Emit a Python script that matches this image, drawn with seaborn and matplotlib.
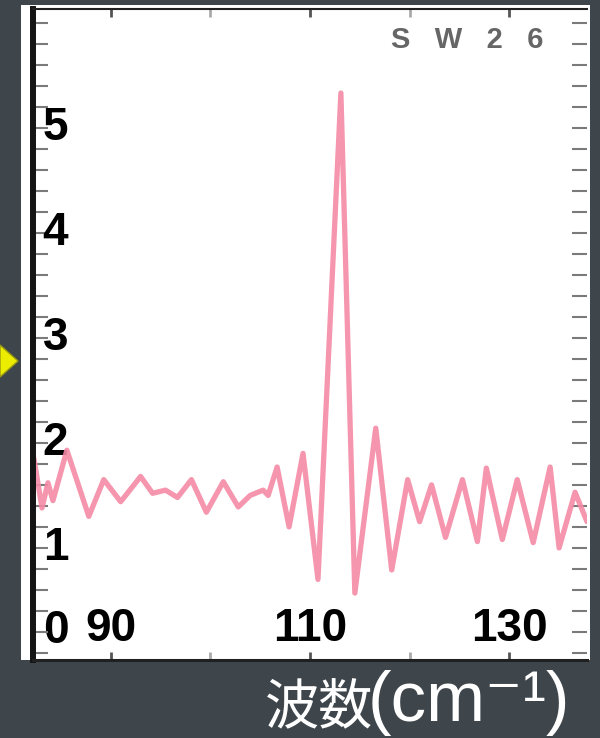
import matplotlib
matplotlib.use("Agg")
import matplotlib.pyplot as plt
from matplotlib.patches import Rectangle, Polygon
from matplotlib.ticker import MultipleLocator
import pandas as pd
import seaborn as sns

# ── Data ───────────────────────────────────────────────────────────────────────
wavenumber = [82.3, 83.1, 83.7, 84.2, 85.6, 87.8, 89.3, 91.0, 93.0, 94.2,
              95.5, 96.7, 98.1, 99.6, 101.3, 102.8, 104.0, 105.3, 105.8, 106.7,
              107.9, 109.3, 110.8, 113.1, 114.5, 116.6, 118.2, 119.8, 121.0, 122.2,
              123.6, 125.3, 126.8, 127.7, 129.3, 130.8, 132.4, 134.1, 135.0, 136.6,
              137.8]
intensity = [1.85, 1.38, 1.62, 1.45, 1.93, 1.30, 1.65, 1.44, 1.68, 1.52,
             1.55, 1.48, 1.65, 1.34, 1.63, 1.39, 1.50, 1.55, 1.50, 1.77,
             1.20, 1.90, 0.70, 5.33, 0.57, 2.14, 0.79, 1.65, 1.25, 1.60,
             1.10, 1.65, 1.06, 1.76, 1.08, 1.65, 1.05, 1.77, 1.00, 1.53,
             1.25]
x_ticks = [90, 110, 130]
y_ticks = [0, 1, 2, 3, 4, 5]
sample_name = "S   W   2   6"
x_label_cjk = "波数"
x_label_unit = "(cm⁻¹)"

df = pd.DataFrame({"wavenumber": wavenumber, "intensity": intensity})

# ── Style ──────────────────────────────────────────────────────────────────────
sns.set_theme(style="ticks")
plt.rcParams["font.family"] = ["Liberation Sans", "DejaVu Sans"]

BG = "#3e464c"
W, H = 600, 738
fig = plt.figure(figsize=(W / 100, H / 100), dpi=100, facecolor=BG)

def fx(px):
    return px / W

def fy(py):
    return 1 - py / H

# white slide panel behind the axes
fig.patches.append(Rectangle((fx(21), fy(660)), fx(590) - fx(21), fy(5) - fy(660),
                             transform=fig.transFigure, facecolor="white",
                             edgecolor="none", zorder=-5))

ax = fig.add_axes([fx(33), fy(660), fx(587) - fx(33), fy(9) - fy(660)])
ax.set_facecolor("white")
ax.set_zorder(1)

sns.lineplot(data=df, x="wavenumber", y="intensity", ax=ax, estimator=None,
             color="#f48aa5", linewidth=3.8, alpha=0.9)

ax.set_xlim(82.2, 137.8)
ax.set_ylim(-0.067, 6.13)
ax.set_xticks(x_ticks)
ax.set_yticks(y_ticks)
ax.xaxis.set_minor_locator(MultipleLocator(10))
ax.yaxis.set_minor_locator(MultipleLocator(0.2))
ax.set_xlabel("")
ax.set_ylabel("")

# spines
ax.spines["left"].set_linewidth(4.3)
ax.spines["left"].set_color("#141414")
ax.spines["top"].set_linewidth(1.5)
ax.spines["top"].set_color("#202020")
ax.spines["bottom"].set_linewidth(2.2)
ax.spines["bottom"].set_color("#202020")
ax.spines["right"].set_visible(False)

# ticks
ax.tick_params(axis="y", which="both", direction="in", left=True, right=True,
               length=11, width=1.5, color="#7a7a7a")
ax.tick_params(axis="x", which="both", direction="in", bottom=True, top=True,
               length=6, width=2, color="#555555")
ax.tick_params(axis="x", which="minor", color="#aaaaaa")
ax.tick_params(axis="y", labelsize=33, labelcolor="black", pad=-7)
ax.tick_params(axis="x", labelsize=33, labelcolor="black", pad=-38)

for lbl in ax.get_yticklabels():
    lbl.set_ha("left")
    lbl.set_va("center")
    lbl.set_fontweight("bold")
ax.get_yticklabels()[0].set_va("bottom")
for lbl in ax.get_xticklabels():
    lbl.set_fontweight("bold")

# sample tag
fig.text(fx(467), fy(40), sample_name, ha="center", va="center",
         fontsize=21, color="#666666", fontweight="bold", zorder=3)

# yellow pointer on the slide
fig.patches.append(Polygon([(fx(0), fy(345)), (fx(18), fy(361)), (fx(0), fy(377))],
                           closed=True, transform=fig.transFigure,
                           facecolor="#ecec00", edgecolor="#9a9a10", lw=1))

# axis title on the slide background
fig.text(fx(265), fy(724), x_label_cjk, ha="left", va="baseline", fontsize=39,
         color="white", family=["Noto Sans CJK JP", "DejaVu Sans"])
fig.text(fx(368), fy(721), x_label_unit, ha="left", va="baseline", fontsize=51,
         color="white", family=["Liberation Sans", "DejaVu Sans"])

fig.savefig("out.png", dpi=100, facecolor=BG)
